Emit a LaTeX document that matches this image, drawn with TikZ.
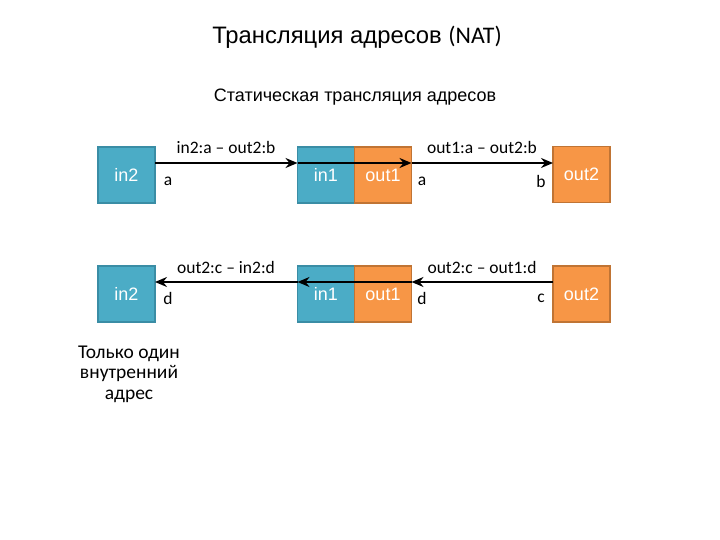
\documentclass[tikz,border=0pt]{standalone}
\usepackage{fontspec}
\setmainfont{Liberation Sans}
\newfontfamily\calib{Carlito}
\usetikzlibrary{arrows.meta}
\definecolor{bluebox}{HTML}{4BACC6}
\definecolor{blueedge}{HTML}{3A8DA5}
\definecolor{orangebox}{HTML}{F79646}
\definecolor{orangeedge}{HTML}{C07434}
\tikzset{
  bbox/.style={draw=blueedge, fill=bluebox, line width=1.2bp, minimum width=57bp, minimum height=56bp, inner sep=0pt, text=white, font=\fontsize{18bp}{20bp}\selectfont},
  obox/.style={draw=orangeedge, fill=orangebox, line width=1.2bp, minimum width=57bp, minimum height=56bp, inner sep=0pt, text=white, font=\fontsize{18bp}{20bp}\selectfont},
  conn/.style={line width=2.3bp, -{Stealth[length=12bp,width=10bp,inset=4bp]}},
  lbl/.style={font=\calib\fontsize{17.5bp}{20bp}\selectfont, inner sep=0pt},
}
\begin{document}
\begin{tikzpicture}[x=1bp,y=-1bp]
\useasboundingbox (0,0) rectangle (720,540);
\node[font=\fontsize{23.8bp}{28bp}\selectfont] (title) at (357,37) {Трансляция адресов {\calib(NAT)}};
\node[font=\fontsize{18bp}{21bp}\selectfont] (sub) at (355,97) {Статическая трансляция адресов};
% top row
\node[bbox] (a2) at (126.5,175) {in2};
\node[bbox] (a1) at (326,175) {in1};
\node[obox] (ao1) at (383,175) {out1};
\node[obox] (ao2) at (581.5,174.5) {out2};
\coordinate (a2e) at (155,163);
\coordinate (a1w) at (297.5,163);
\coordinate (ao1e) at (411.5,163);
\coordinate (ao2w) at (553,163);
\draw[conn] (a2e) -- (a1w);
\draw[conn] (a1w) -- (ao1e);
\draw[conn] (ao1e) -- (ao2w);
\node[lbl] (t1) at (226,147) {in2:a – out2:b};
\node[lbl] (t2) at (482,147) {out1:a – out2:b};
\node[lbl] (la1) at (168,181) {a};
\node[lbl] (la2) at (422,181) {a};
\node[lbl] (lb) at (541,181) {b};
% bottom row
\node[bbox] (b2) at (126.5,294) {in2};
\node[bbox] (b1) at (326,294) {in1};
\node[obox] (bo1) at (383,294) {out1};
\node[obox] (bo2) at (581.5,294) {out2};
\coordinate (b2e) at (155,282);
\coordinate (b1w) at (297.5,282);
\coordinate (bo1e) at (411.5,282);
\coordinate (bo2w) at (553,282);
\draw[conn] (bo2w) -- (bo1e);
\draw[conn] (bo1e) -- (b1w);
\draw[conn] (b1w) -- (b2e);
\node[lbl] (t3) at (226,267) {out2:c – in2:d};
\node[lbl] (t4) at (482,267) {out2:c – out1:d};
\node[lbl] (ld1) at (168,298) {d};
\node[lbl] (ld2) at (422,298) {d};
\node[lbl] (lc) at (541,298) {c};
\node[font=\calib\fontsize{19.5bp}{20.5bp}\selectfont, align=center] (note) at (129,374) {Только один\\внутренний\\адрес};
\end{tikzpicture}
\end{document}
